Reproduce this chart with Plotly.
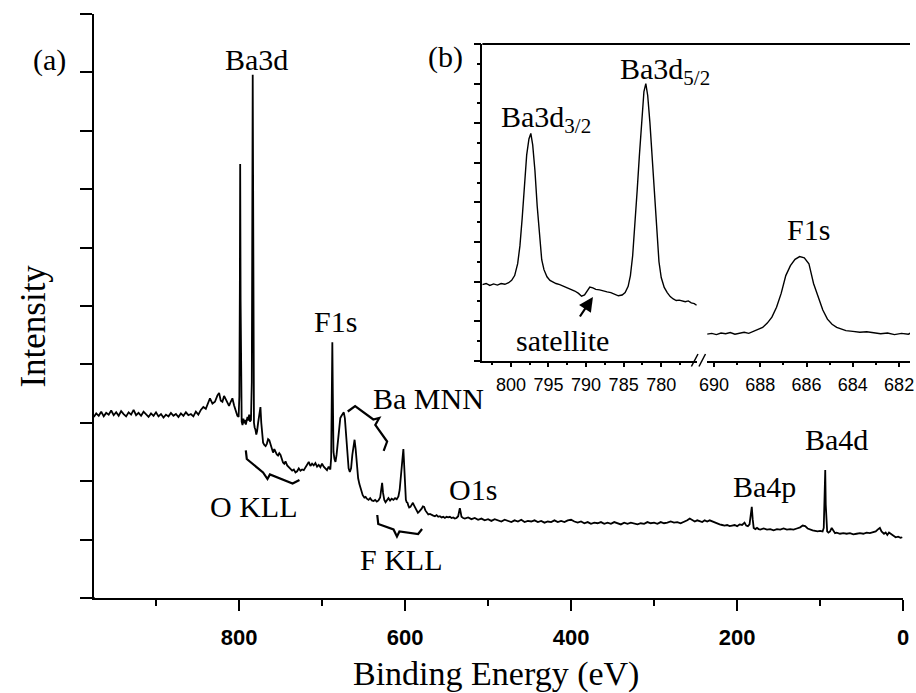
import plotly.graph_objects as go

W, H = 916, 693

# ---------------- DATA ----------------
# Survey spectrum (a): (binding energy in eV, intensity in arb. units)
survey_high_be = [
    (975, 3.10), (972, 3.16), (969, 3.12), (966, 3.19), (963, 3.11), (960, 3.17), (957, 3.14),
    (954, 3.21), (951, 3.13), (948, 3.18), (945, 3.12), (942, 3.20), (939, 3.15), (936, 3.11),
    (933, 3.18), (930, 3.14), (927, 3.22), (924, 3.13), (921, 3.17), (918, 3.12), (915, 3.19),
    (912, 3.15), (909, 3.10), (906, 3.16), (903, 3.12), (900, 3.18), (897, 3.11), (894, 3.15),
    (891, 3.09), (888, 3.14), (885, 3.11), (882, 3.17), (879, 3.12), (876, 3.15), (873, 3.10),
    (870, 3.16), (867, 3.12), (864, 3.18), (861, 3.13), (858, 3.15), (855, 3.11), (852, 3.19),
    (849, 3.14), (846, 3.22), (843, 3.27), (840, 3.24), (837, 3.35), (835, 3.42), (832, 3.33),
    (829, 3.36), (826, 3.47), (824, 3.51), (822, 3.38), (820, 3.36), (818, 3.46), (816, 3.40),
    (814, 3.33), (812, 3.29), (810, 3.36), (808, 3.42), (806, 3.30), (804, 3.20), (802, 3.12),
]
survey_ba3d = [
    (800.5, 3.10), (799.6, 3.45), (799.0, 5.30), (798.6, 7.43), (798.1, 5.10), (797.5, 3.40),
    (796.8, 3.02), (795.8, 2.96), (794.8, 3.07), (793.8, 2.99), (792.8, 3.05), (791.8, 2.97),
    (790.8, 3.03), (789.8, 3.10), (788.8, 3.04), (787.8, 3.14), (786.8, 3.02), (785.6, 3.05),
    (784.6, 3.70), (784.1, 5.80), (783.5, 8.96), (783.0, 7.00), (782.5, 4.10), (782.0, 3.00),
    (781.2, 2.92), (780.2, 2.88), (779.2, 2.80), (778.2, 2.86), (777.0, 3.00), (775.6, 3.12),
    (774.2, 3.27), (773.2, 3.00), (772.2, 2.80), (771.0, 2.66), (769.5, 2.62), (768.0, 2.60),
    (766.5, 2.64), (765.0, 2.72), (763.5, 2.70), (762.0, 2.62), (760.5, 2.54), (759.0, 2.49),
    (757.5, 2.55), (756.0, 2.50), (754.5, 2.46), (753.0, 2.44), (751.5, 2.48), (750.0, 2.45),
    (748.5, 2.38), (747.0, 2.32), (745.5, 2.30), (744.0, 2.34), (742.0, 2.27), (740.0, 2.24),
    (738.0, 2.22), (736.0, 2.18), (734.0, 2.20), (732.0, 2.15), (730.0, 2.17), (728.0, 2.22),
    (726.0, 2.18), (724.0, 2.20), (722.0, 2.19), (720.0, 2.24), (718.0, 2.30), (716.0, 2.33),
    (714.0, 2.26), (712.0, 2.30), (710.0, 2.27), (708.0, 2.31), (706.0, 2.25), (704.0, 2.28),
    (702.0, 2.24), (700.0, 2.30), (698.0, 2.25), (696.0, 2.22), (694.0, 2.19), (692.0, 2.25),
]
survey_f1s_auger = [
    (691.0, 2.22), (690.0, 2.20), (689.0, 2.40), (688.3, 3.60), (687.6, 4.38), (687.0, 3.50),
    (686.2, 2.50), (685.0, 2.38), (683.8, 2.33), (682.5, 2.45), (681.0, 2.70), (679.5, 2.95),
    (678.0, 3.08), (676.5, 3.12), (675.0, 3.17), (673.8, 3.18), (672.5, 3.08), (671.0, 2.80),
    (669.5, 2.45), (668.0, 2.22), (666.5, 2.16), (665.0, 2.22), (663.5, 2.45), (662.0, 2.66),
    (660.8, 2.71), (659.5, 2.55), (658.0, 2.25), (656.5, 2.05), (655.0, 1.95), (653.0, 1.84),
    (651.0, 1.76), (649.0, 1.72), (647.5, 1.73), (646.0, 1.70), (644.0, 1.68), (642.0, 1.71),
    (640.0, 1.67), (638.0, 1.66), (636.0, 1.68), (634.0, 1.65), (632.0, 1.67), (630.0, 1.72),
    (628.5, 1.88), (627.6, 1.97), (626.5, 1.80), (625.0, 1.68), (623.5, 1.64), (622.0, 1.68),
    (620.0, 1.71), (618.0, 1.67), (616.0, 1.70), (614.0, 1.68), (612.0, 1.71), (610.0, 1.69),
    (608.0, 1.74), (606.5, 1.85), (604.5, 2.10), (603.0, 2.40), (602.0, 2.55), (601.0, 2.30),
    (600.0, 1.85), (599.0, 1.68), (598.0, 1.64), (597.0, 1.63), (596.0, 1.58), (595.0, 1.55),
    (593.5, 1.56), (592.0, 1.60), (590.5, 1.63), (589.0, 1.58), (587.5, 1.54), (586.0, 1.50),
    (584.5, 1.46), (583.0, 1.48), (581.5, 1.50), (580.0, 1.53), (578.5, 1.57), (577.0, 1.56),
    (575.5, 1.50), (574.0, 1.47), (572.0, 1.43), (570.0, 1.44), (568.0, 1.42), (566.0, 1.41),
    (564.0, 1.40), (562.0, 1.42), (560.0, 1.39), (558.0, 1.40), (556.0, 1.38), (554.0, 1.39),
    (552.0, 1.37), (550.0, 1.39), (548.0, 1.38), (546.0, 1.39), (544.0, 1.37), (542.0, 1.38),
    (540.0, 1.36), (538.0, 1.37), (536.0, 1.40), (535.0, 1.48), (534.0, 1.54), (533.0, 1.47),
    (532.0, 1.39), (530.0, 1.37),
]
survey_low_be = [
    (528, 1.36), (524, 1.38), (520, 1.35), (516, 1.37), (512, 1.34), (508, 1.36), (504, 1.33),
    (500, 1.35), (496, 1.32), (492, 1.35), (488, 1.33), (484, 1.31), (480, 1.34), (476, 1.32),
    (472, 1.30), (468, 1.33), (464, 1.31), (460, 1.34), (456, 1.30), (452, 1.32), (448, 1.31),
    (444, 1.33), (440, 1.30), (436, 1.32), (432, 1.29), (428, 1.31), (424, 1.30), (420, 1.33),
    (416, 1.30), (412, 1.32), (408, 1.30), (404, 1.33), (400, 1.34), (396, 1.31), (392, 1.29),
    (388, 1.31), (384, 1.28), (380, 1.30), (376, 1.27), (372, 1.29), (368, 1.28), (364, 1.30),
    (360, 1.27), (356, 1.29), (352, 1.27), (348, 1.30), (344, 1.28), (340, 1.26), (336, 1.29),
    (332, 1.27), (328, 1.29), (324, 1.28), (320, 1.26), (316, 1.28), (312, 1.27), (308, 1.30),
    (304, 1.28), (300, 1.29), (296, 1.27), (292, 1.30), (288, 1.28), (284, 1.29), (280, 1.31),
    (276, 1.29), (272, 1.30), (268, 1.28), (264, 1.30), (260, 1.33), (257, 1.36), (254, 1.33),
    (251, 1.31), (248, 1.33), (245, 1.31), (242, 1.30), (239, 1.33), (236, 1.31), (233, 1.33),
    (230, 1.31), (227, 1.29), (224, 1.28), (221, 1.26), (218, 1.25), (215, 1.24), (212, 1.25),
    (209, 1.23), (206, 1.24), (203, 1.25), (200, 1.23), (197, 1.26), (194, 1.25), (191, 1.29),
    (189, 1.24), (187, 1.23), (185, 1.26), (183.5, 1.40), (182.3, 1.56), (181.2, 1.35),
    (180, 1.20), (178, 1.18), (176, 1.20), (174, 1.18), (172, 1.17), (168, 1.19), (164, 1.17),
    (160, 1.18), (156, 1.16), (152, 1.18), (148, 1.17), (144, 1.19), (140, 1.17), (136, 1.18),
    (132, 1.17), (128, 1.19), (124, 1.21), (121, 1.24), (118, 1.23), (115, 1.19), (112, 1.17),
    (109, 1.16), (106, 1.15), (103, 1.14), (100, 1.15), (97, 1.14), (95.6, 1.20), (95.0, 1.85),
    (94.5, 1.55), (93.8, 2.19), (93.2, 1.60), (92.5, 1.20), (91.5, 1.14), (90, 1.12), (88, 1.14),
    (86, 1.20), (84, 1.14), (82, 1.11), (80, 1.12), (76, 1.10), (72, 1.11), (68, 1.10),
    (64, 1.11), (60, 1.09), (56, 1.10), (52, 1.11), (48, 1.10), (44, 1.12), (40, 1.11),
    (36, 1.12), (33, 1.14), (30, 1.18), (28, 1.20), (26, 1.14), (23, 1.10), (21, 1.12),
    (19, 1.08), (17, 1.12), (15, 1.10), (12, 1.06), (9, 1.04), (6, 1.05), (3, 1.03), (1, 1.04),
]

# Inset (b): high resolution Ba3d and F1s regions
inset_ba3d = [
    (803.8, 1.92), (803.3, 1.95), (802.8, 1.90), (802.3, 1.94), (801.8, 1.91), (801.3, 1.95),
    (800.8, 1.93), (800.3, 1.97), (799.9, 2.03), (799.5, 2.15), (799.1, 2.45), (798.8, 2.90),
    (798.5, 3.60), (798.2, 4.50), (797.9, 5.20), (797.6, 5.60), (797.35, 5.74), (797.1, 5.45),
    (796.8, 4.80), (796.5, 3.90), (796.2, 3.10), (795.9, 2.55), (795.6, 2.30), (795.2, 2.12),
    (794.8, 2.03), (794.4, 1.98), (794.0, 1.95), (793.5, 1.92), (793.0, 1.88), (792.5, 1.85),
    (792.0, 1.80), (791.5, 1.76), (791.0, 1.70), (790.6, 1.63), (790.2, 1.66), (789.9, 1.75),
    (789.5, 1.86), (789.1, 1.84), (788.7, 1.80), (788.2, 1.79), (787.7, 1.76), (787.2, 1.74),
    (786.7, 1.72), (786.2, 1.67), (785.7, 1.64), (785.2, 1.66), (784.8, 1.72), (784.4, 1.88),
    (784.1, 2.15), (783.8, 2.65), (783.5, 3.40), (783.2, 4.30), (782.9, 5.20), (782.6, 6.15),
    (782.3, 6.80), (782.05, 7.00), (781.8, 6.70), (781.5, 6.00), (781.2, 5.10), (780.9, 4.20),
    (780.6, 3.20), (780.3, 2.50), (780.0, 2.10), (779.6, 1.85), (779.2, 1.72), (778.8, 1.62),
    (778.4, 1.56), (778.0, 1.52), (777.6, 1.53), (777.2, 1.50), (776.8, 1.49), (776.4, 1.51),
    (776.0, 1.46), (775.6, 1.44), (775.3, 1.40),
]
inset_f1s = [
    (690.3, 0.67), (690.1, 0.69), (689.9, 0.66), (689.7, 0.70), (689.5, 0.68), (689.3, 0.71),
    (689.1, 0.67), (688.9, 0.70), (688.7, 0.72), (688.5, 0.69), (688.3, 0.74), (688.1, 0.78),
    (687.9, 0.84), (687.7, 0.95), (687.5, 1.10), (687.3, 1.35), (687.1, 1.70), (686.9, 2.15),
    (686.7, 2.40), (686.5, 2.56), (686.3, 2.63), (686.1, 2.60), (685.9, 2.45), (685.7, 1.95),
    (685.5, 1.60), (685.3, 1.28), (685.1, 1.05), (684.9, 0.92), (684.7, 0.84), (684.5, 0.79),
    (684.3, 0.76), (684.0, 0.74), (683.7, 0.72), (683.4, 0.73), (683.1, 0.70), (682.8, 0.68),
    (682.5, 0.70), (682.2, 0.66), (681.9, 0.69), (681.6, 0.67), (681.5, 0.70),
]

main_xticks = [800, 600, 400, 200, 0]
inset_left_ticks = [800, 795, 790, 785, 780]
inset_right_ticks = [690, 688, 686, 684, 682]

# ---------------- helpers (pixel -> paper) ----------------
def fx(p):
    return p / W


def fy(p):
    return 1 - p / H


survey = survey_high_be + survey_ba3d + survey_f1s_auger + survey_low_be

fig = go.Figure()
fig.add_trace(go.Scatter(
    x=[e for e, _ in survey], y=[v for _, v in survey], mode="lines",
    line=dict(color="black", width=1.8), xaxis="x", yaxis="y", showlegend=False,
))
fig.add_trace(go.Scatter(
    x=[e for e, _ in inset_ba3d], y=[v for _, v in inset_ba3d], mode="lines",
    line=dict(color="black", width=1.4), xaxis="x2", yaxis="y2", showlegend=False,
))
fig.add_trace(go.Scatter(
    x=[e for e, _ in inset_f1s], y=[v for _, v in inset_f1s], mode="lines",
    line=dict(color="black", width=1.4), xaxis="x3", yaxis="y2", showlegend=False,
))

serif = "Liberation Serif, Times New Roman, serif"
sans = "Liberation Sans, Arial, sans-serif"

axis_common = dict(showgrid=False, zeroline=False, showline=True, linecolor="black",
                   tickcolor="black", ticks="outside")

layout_axes = dict(
    xaxis=dict(axis_common, domain=[fx(87), fx(909)], range=[975.1, 0], anchor="y",
               linewidth=2, tickwidth=2, ticklen=11,
               tickmode="array", tickvals=main_xticks, ticktext=[str(v) for v in main_xticks],
               tickfont=dict(family=sans, size=22, color="black", weight="bold"),
               ticklabelstandoff=8,
               minor=dict(tickmode="linear", tick0=0, dtick=100, ticklen=6, tickwidth=2,
                          ticks="outside", tickcolor="black")),
    yaxis=dict(axis_common, domain=[fy(598), fy(14)], range=[0, 10], anchor="x",
               linewidth=2, tickwidth=2, ticklen=12, dtick=1, tick0=0, showticklabels=False),
    xaxis2=dict(axis_common, domain=[fx(481.7), fx(700)], range=[803.8, 775.2], anchor="y2",
                linewidth=1.5, tickwidth=1.5, ticklen=5,
                tickmode="array", tickvals=inset_left_ticks,
                ticktext=[str(v) for v in inset_left_ticks],
                tickfont=dict(family=sans, size=18, color="black"), ticklabelstandoff=2,
                minor=dict(tickmode="linear", tick0=775, dtick=2.5, ticklen=3, tickwidth=1.5,
                           ticks="outside", tickcolor="black")),
    xaxis3=dict(axis_common, domain=[fx(710), 1.0], range=[690.3, 681.53], anchor="y2",
                linewidth=1.5, tickwidth=1.5, ticklen=5,
                tickmode="array", tickvals=inset_right_ticks,
                ticktext=[str(v) for v in inset_right_ticks],
                tickfont=dict(family=sans, size=18, color="black"), ticklabelstandoff=2,
                minor=dict(tickmode="linear", tick0=680, dtick=1, ticklen=3, tickwidth=1.5,
                           ticks="outside", tickcolor="black")),
    yaxis2=dict(axis_common, domain=[fy(360.7), fy(44)], range=[0, 8], anchor="x2",
                linewidth=1.5, tickwidth=1.5, ticklen=7, dtick=1, tick0=0,
                showticklabels=False,
                minor=dict(tickmode="linear", tick0=0, dtick=0.5, ticklen=4, tickwidth=1.5,
                           ticks="outside", tickcolor="black")),
)

# ---------------- labels ----------------
def label(text, x, y, size=30, xanchor="center", yanchor="middle", angle=0, family=serif):
    return dict(text=text, x=fx(x), y=fy(y), xref="paper", yref="paper", showarrow=False,
                xanchor=xanchor, yanchor=yanchor, textangle=angle,
                font=dict(family=family, size=size, color="black"))


annotations = [
    label("(a)", 42, 60, 30),
    label("Ba3d", 252, 59, 30),
    label("F1s", 333, 321, 30),
    label("Ba MNN", 427, 398, 30),
    label("O KLL", 249, 506, 30),
    label("F KLL", 400, 559, 30),
    label("O1s", 472, 489, 30),
    label("Ba4p", 768, 486, 30),
    label("Ba4d", 841, 439, 30),
    label("(b)", 444, 57, 30),
    label("Ba3d<sub>3/2</sub>", 499, 119, 30, xanchor="left"),
    label("Ba3d<sub>5/2</sub>", 619, 71, 30, xanchor="left"),
    label("F1s", 813, 229, 30),
    label("satellite", 563, 340, 30),
    label("Intensity", 25, 326, 35, angle=-90),
    label("Binding Energy (eV)", 496, 674, 34),
    # satellite arrow
    dict(text="", x=fx(594), y=fy(297), xref="paper", yref="paper", showarrow=True,
         ax=-14, ay=21, arrowhead=2, arrowsize=1.3, arrowwidth=2.2, arrowcolor="black"),
]

# ---------------- decorations: inset frame, axis break, braces ----------------
def path_from_px(points):
    return "M " + " L ".join(f"{fx(x):.5f},{fy(y):.5f}" for x, y in points)


brace_o_kll = [(241.5, 450.5), (242.5, 459), (259, 472.5), (263.5, 479), (266, 474.5),
               (289, 483.5), (296, 480)]
brace_f_kll = [(375, 515), (376, 524), (391.5, 529.5), (395, 536.5), (397.5, 531.5),
               (416.5, 534), (420.5, 529)]
brace_ba_mnn = [(345, 411.5), (352.5, 406), (371, 419.5), (377, 418), (373, 425),
                (385, 441.5), (381.5, 451)]

shapes = [
    # inset top border
    dict(type="line", xref="paper", yref="paper", x0=fx(481.7), x1=1.0, y0=fy(44), y1=fy(44),
         line=dict(color="black", width=2)),
    # main x axis line slightly overshooting the y axis
    dict(type="line", xref="paper", yref="paper", x0=fx(79), x1=fx(88), y0=fy(598), y1=fy(598),
         line=dict(color="black", width=2)),
    # axis break marks
    dict(type="line", xref="paper", yref="paper", x0=fx(694), y0=fy(366.5), x1=fx(700.7),
         y1=fy(354), line=dict(color="black", width=1.5)),
    dict(type="line", xref="paper", yref="paper", x0=fx(701.7), y0=fy(366.5), x1=fx(708.3),
         y1=fy(354), line=dict(color="black", width=1.5)),
]
for br in (brace_o_kll, brace_f_kll, brace_ba_mnn):
    shapes.append(dict(type="path", xref="paper", yref="paper", path=path_from_px(br),
                       line=dict(color="black", width=2.2)))

fig.update_layout(
    width=W, height=H,
    margin=dict(l=0, r=0, t=0, b=0, pad=0),
    paper_bgcolor="white", plot_bgcolor="rgba(0,0,0,0)",
    showlegend=False, hovermode=False,
    annotations=annotations, shapes=shapes,
    **layout_axes,
)

# remove the browser's default 8px body margin so the figure sits at the page origin
fig.write_html(
    "out.html",
    config={"displayModeBar": False},
    post_script="document.body.style.margin='0px';document.body.style.padding='0px';",
)
